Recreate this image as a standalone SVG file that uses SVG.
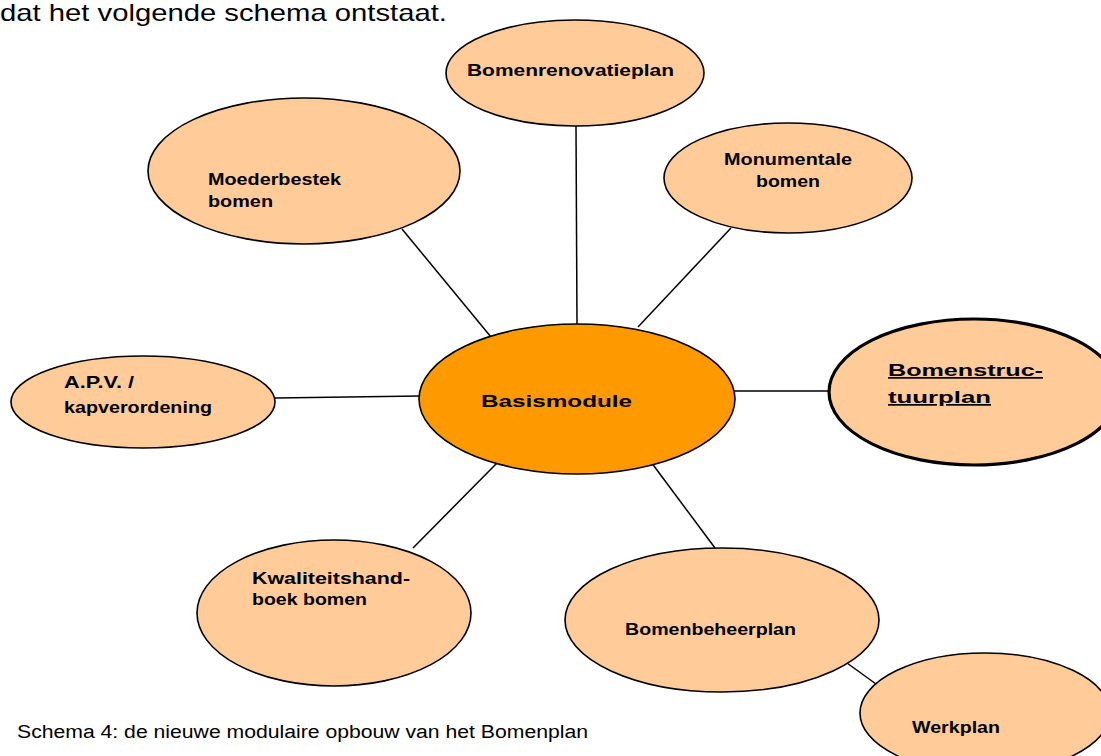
<svg xmlns="http://www.w3.org/2000/svg" width="1101" height="756" viewBox="0 0 1101 756">
<style>
.n{fill:#ffcc99;stroke:#000;stroke-width:1.6}
.c{fill:#ff9900;stroke:#000;stroke-width:1.6}
.b{fill:#ffcc99;stroke:#000;stroke-width:3.2}
.l{font-family:"Liberation Sans",Arial,sans-serif;font-weight:bold;font-size:17px;fill:#000}
.t{font-family:"Liberation Sans",Arial,sans-serif;fill:#000}
#connectors line{stroke:#000;stroke-width:1.5}
</style>
<rect width="1101" height="756" fill="#fff"/>
<text class="t" x="0" y="21" font-size="24" textLength="447" lengthAdjust="spacingAndGlyphs">dat het volgende schema ontstaat.</text>
<g id="connectors">
<line x1="402" y1="229" x2="491" y2="337"/>
<line x1="576" y1="126" x2="577" y2="325"/>
<line x1="731" y1="228" x2="638" y2="327"/>
<line x1="275" y1="398" x2="420" y2="396"/>
<line x1="734" y1="391" x2="831" y2="391"/>
<line x1="413" y1="548" x2="497" y2="463"/>
<line x1="651" y1="462" x2="715" y2="548"/>
<line x1="847" y1="663" x2="876" y2="684"/>
</g>
<g id="bomenrenovatieplan"><ellipse class="n" cx="575" cy="73" rx="129" ry="53"/><text class="l" x="467" y="76" textLength="207" lengthAdjust="spacingAndGlyphs">Bomenrenovatieplan</text></g>
<g id="moederbestek"><ellipse class="n" cx="304" cy="171" rx="156" ry="73"/><text class="l" x="208" y="185" textLength="133" lengthAdjust="spacingAndGlyphs">Moederbestek</text><text class="l" x="208" y="207" textLength="65" lengthAdjust="spacingAndGlyphs">bomen</text></g>
<g id="monumentale"><ellipse class="n" cx="788" cy="178" rx="124" ry="55"/><text class="l" x="724" y="165" textLength="128" lengthAdjust="spacingAndGlyphs">Monumentale</text><text class="l" x="756" y="187" textLength="64" lengthAdjust="spacingAndGlyphs">bomen</text></g>
<g id="bomenstructuurplan"><ellipse class="b" cx="974" cy="392" rx="145" ry="73"/><text class="l" x="888" y="376" font-size="23" textLength="155" lengthAdjust="spacingAndGlyphs" text-decoration="underline">Bomenstruc-</text><text class="l" x="888" y="403" font-size="23" textLength="103" lengthAdjust="spacingAndGlyphs" text-decoration="underline">tuurplan</text></g>
<g id="basismodule"><ellipse class="c" cx="577" cy="399" rx="158" ry="75"/><text class="l" x="481" y="407" font-size="23" textLength="151" lengthAdjust="spacingAndGlyphs">Basismodule</text></g>
<g id="apv"><ellipse class="n" cx="143" cy="402" rx="132" ry="46"/><text class="l" x="64" y="388" textLength="70" lengthAdjust="spacingAndGlyphs">A.P.V. /</text><text class="l" x="64" y="413" textLength="148" lengthAdjust="spacingAndGlyphs">kapverordening</text></g>
<g id="kwaliteitshandboek"><ellipse class="n" cx="334" cy="613" rx="137" ry="73"/><text class="l" x="252" y="584" textLength="158" lengthAdjust="spacingAndGlyphs">Kwaliteitshand-</text><text class="l" x="252" y="605" textLength="115" lengthAdjust="spacingAndGlyphs">boek bomen</text></g>
<g id="bomenbeheerplan"><ellipse class="n" cx="722" cy="620" rx="157" ry="72"/><text class="l" x="625" y="635" textLength="171" lengthAdjust="spacingAndGlyphs">Bomenbeheerplan</text></g>
<g id="werkplan"><ellipse class="n" cx="985" cy="713" rx="125" ry="60"/><text class="l" x="912" y="733" textLength="88" lengthAdjust="spacingAndGlyphs">Werkplan</text></g>
<text class="t" x="17" y="738" font-size="18" textLength="571" lengthAdjust="spacingAndGlyphs">Schema 4: de nieuwe modulaire opbouw van het Bomenplan</text>
</svg>
